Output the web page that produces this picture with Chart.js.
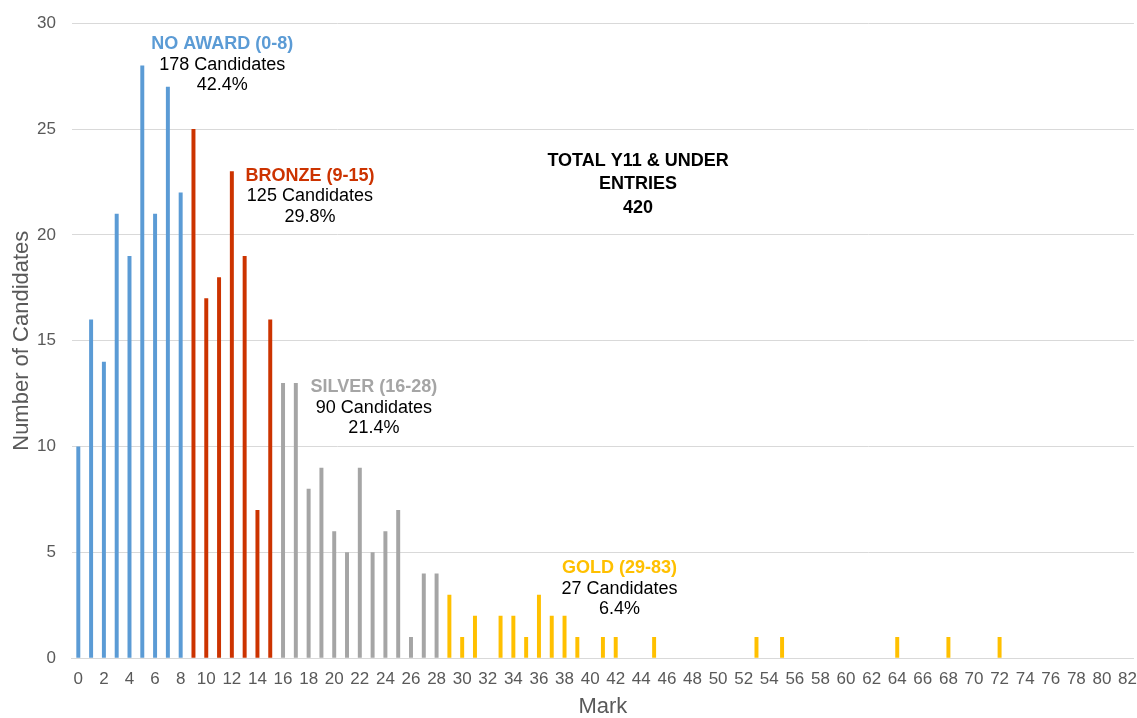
<!DOCTYPE html>
<html>
<head>
<meta charset="utf-8">
<script src="https://cdn.jsdelivr.net/npm/chart.js@4"></script>
<style>
  html, body { margin: 0; padding: 0; background: #fff; overflow: hidden; }
  #wrap { width: 1137px; height: 718px; overflow: hidden; }
  #chart { display: block; margin-top: -3px; }
</style>
</head>
<body>
<div id="wrap"><canvas id="chart" width="1148" height="723"></canvas></div>
<script>
// marks 0..82
const marks = [];
for (let m = 0; m <= 82; m++) marks.push(String(m));

// number of candidates per mark
const candidates = [
  10, 16, 14, 21, 19, 28, 21, 27, 22,          // 0-8
  25, 17, 18, 23, 19, 7, 16,                   // 9-15
  13, 13, 8, 9, 6, 5, 9, 5, 6, 7, 1, 4, 4,     // 16-28
  3, 1, 2, 0, 2, 2, 1, 3, 2, 2, 1, 0, 1, 1,    // 29-42
  0, 0, 1, 0, 0, 0, 0, 0, 0, 0, 1, 0, 1,       // 43-55
  0, 0, 0, 0, 0, 0, 0, 0, 1, 0, 0, 0, 1,       // 56-68
  0, 0, 0, 1, 0, 0, 0, 0, 0, 0, 0, 0, 0, 0     // 69-82
];

const bandNames = ["NO AWARD (0-8)", "BRONZE (9-15)", "SILVER (16-28)", "GOLD (29-83)"];
const bandStart = [0, 9, 16, 29];
const bandCounts = [178, 125, 90, 27];
const bandPercents = ["42.4%", "29.8%", "21.4%", "6.4%"];
const bandColors = ["#5B9BD5", "#CC3300", "#A5A5A5", "#FFC000"];

const totalLines = ["TOTAL Y11 & UNDER", "ENTRIES", "420"];

function bandOf(mark) {
  let b = 0;
  for (let i = 0; i < bandStart.length; i++) if (mark >= bandStart[i]) b = i;
  return b;
}

// where each text block sits, in data units (mark, value)
const bandLabelAt = [[11.25, 29.0], [18.1, 22.8], [23.1, 12.8], [42.3, 4.25]];
const totalLabelAt = [43.75, 23.5];

const labelsPlugin = {
  id: "bandLabels",
  afterDatasetsDraw(chart) {
    const { ctx, scales: { x, y } } = chart;
    const step = 20.5;
    ctx.save();
    ctx.textAlign = "center";
    ctx.textBaseline = "middle";
    bandNames.forEach((name, i) => {
      const px = x.getPixelForValue(bandLabelAt[i][0]);
      const py = y.getPixelForValue(bandLabelAt[i][1]);
      ctx.font = "bold 18px 'Liberation Sans', Arial, sans-serif";
      ctx.fillStyle = bandColors[i];
      ctx.fillText(name, px, py);
      ctx.font = "18px 'Liberation Sans', Arial, sans-serif";
      ctx.fillStyle = "#000";
      ctx.fillText(bandCounts[i] + " Candidates", px, py + step);
      ctx.fillText(bandPercents[i], px, py + step * 2);
    });
    const tx = x.getPixelForValue(totalLabelAt[0]);
    const ty = y.getPixelForValue(totalLabelAt[1]);
    ctx.font = "bold 18px 'Liberation Sans', Arial, sans-serif";
    ctx.fillStyle = "#000";
    totalLines.forEach((t, i) => ctx.fillText(t, tx, ty + i * 23.5));
    ctx.restore();
  }
};

const tickColor = "#595959";
const font = "'Liberation Sans', Arial, sans-serif";

new Chart(document.getElementById("chart").getContext("2d"), {
  type: "bar",
  data: {
    labels: marks,
    datasets: [{
      data: candidates,
      backgroundColor: marks.map(m => bandColors[bandOf(+m)]),
      barPercentage: 0.62,
      categoryPercentage: 0.5
    }]
  },
  options: {
    responsive: false,
    animation: false,
    layout: { padding: { top: 11, left: 11, right: 0, bottom: 0 } },
    plugins: {
      legend: { display: false },
      tooltip: { enabled: false }
    },
    scales: {
      x: {
        grid: { display: false, drawTicks: false },
        border: { color: "#d9d9d9", width: 1 },
        ticks: {
          autoSkip: false,
          maxRotation: 0,
          color: tickColor,
          font: { family: font, size: 17 },
          padding: 11,
          callback: (v, i) => (i % 2 === 0 ? marks[i] : "")
        },
        title: {
          display: true,
          text: "Mark",
          color: tickColor,
          font: { family: font, size: 22 },
          padding: { top: -7, bottom: 0 }
        }
      },
      y: {
        min: 0,
        max: 30,
        grid: { color: "#d9d9d9", drawTicks: false },
        border: { display: false },
        ticks: {
          stepSize: 5,
          color: tickColor,
          font: { family: font, size: 17 },
          padding: 16
        },
        title: {
          display: true,
          text: "Number of Candidates",
          color: tickColor,
          font: { family: font, size: 22, lineHeight: 1 },
          padding: { top: 0, bottom: -12 }
        }
      }
    }
  },
  plugins: [labelsPlugin]
});
</script>
</body>
</html>
